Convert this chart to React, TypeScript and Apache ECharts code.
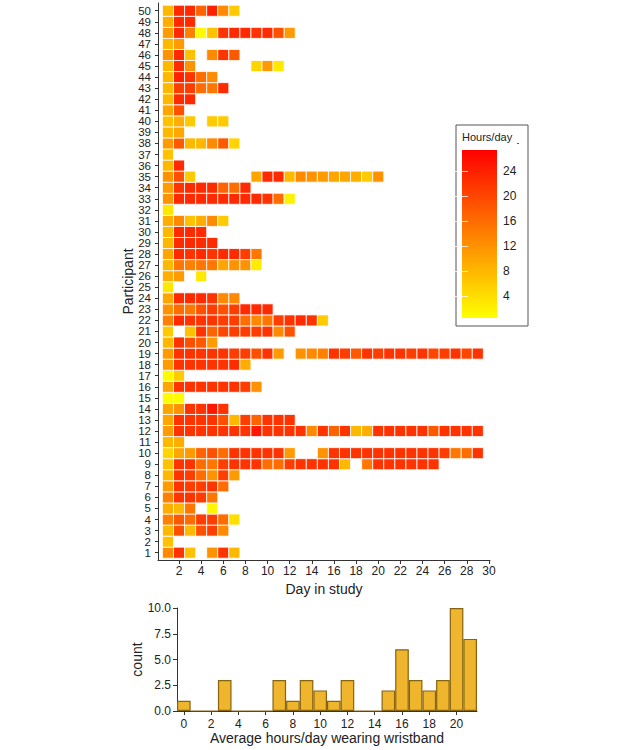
import React, { useEffect, useRef } from "react";
import * as echarts from "echarts";

// ---- Heatmap data: hours/day per participant (row index 0 = participant 1), day 1..n; null = no data
const hoursByParticipant: (number | null)[][] = [
  [13, 22, 7, null, 12, 22, 8], // 1
  [7], // 2
  [8, 19, 8, 19, 21, 13], // 3
  [14, 18, 16, 21, 21, 16, 4], // 4
  [9, 8, 15, null, 1.5], // 5
  [14, 22, 22, 21, 15], // 6
  [11, 22, 21, 21, 22, 16], // 7
  [8, 22, 21, 16, 12, 21, 11], // 8
  [7, 22, 22, 16, 15, 21, 22, 22, 22, 16, 16, 21, 22, 22, 22, 22, 8, null, 15, 22, 22, 22, 22, 22, 22], // 9
  [5, 10, 11, 17, 19, 16, 22, 22, 22, 22, 22, 11, null, null, 12, 22, 22, 22, 22, 22, 22, 22, 22, 22, 22, 21, 15, 16, 22], // 10
  [8, 9], // 11
  [11, 22, 22, 22, 22, 22, 22, 22, 25, 22, 22, 22, 22, 13, 22, 17, 22, 8, 9, 22, 22, 22, 22, 22, 18, 22, 22, 22, 22], // 12
  [10, 22, 22, 22, 22, 19, 8, 21, 17, 22, 22, 22], // 13
  [10, 12, 22, 22, 25, 22], // 14
  [0.8, 0.8], // 15
  [10, 22, 22, 22, 22, 22, 22, 21, 12], // 16
  [1, 6], // 17
  [11, 22, 22, 22, 22, 22, 23, 9], // 18
  [11, 22, 22, 22, 22, 22, 21, 21, 19, 22, 11, null, 12, 13, 14, 22, 21, 18, 22, 21, 22, 22, 21, 22, 20, 21, 22, 20, 22], // 19
  [8, 22, 19, 18, 11], // 20
  [6, null, 7, 22, 17, 20, 21, 21, 21, 22, 13, 19], // 21
  [14, 23, 22, 22, 22, 21, 21, 16, 13, 15, 21, 22, 23, 22, 6], // 22
  [12, 16, 15, 19, 21, 19, 21, 23, 23, 23], // 23
  [10, 23, 23, 23, 22, 13, 13], // 24
  [3], // 25
  [9, 11, null, 3], // 26
  [8, 15, 14, 15, 15, 10, 12, 12, 2.5], // 27
  [10, 23, 22, 23, 22, 23, 23, 21, 15], // 28
  [8, 23, 23, 23, 23], // 29
  [8, 23, 23, 23], // 30
  [9, 13, 7, 9, 13, 6], // 31
  [3], // 32
  [12, 23, 23, 23, 23, 23, 23, 23, 23, 22, 16, 2], // 33
  [11, 22, 23, 23, 23, 17, 16, 23], // 34
  [12, 19, 6, null, null, null, null, null, 10, 23, 23, 8, 13, 12, 11, 10, 10, 9, 6, 12], // 35
  [8, 23], // 36
  [7], // 37
  [11, 18, 8, 8, 13, 18, 5], // 38
  [8, 10], // 39
  [7, 9, 6, null, 6, 6], // 40
  [10, 19], // 41
  [8, 23, 23], // 42
  [8, 21, 21, 16, 15, 23], // 43
  [8, 24, 22, 16, 13], // 44
  [8, 23, 12, null, null, null, null, null, 5, 11, 3], // 45
  [12, 23, 7, null, 13, 22, 18], // 46
  [8, 11], // 47
  [11, 23, 14, 1, 7, 22, 23, 23, 22, 23, 19, 11], // 48
  [9, 23, 23], // 49
  [8, 23, 23, 17, 24, 13, 6], // 50
];

const dayTicks = [2, 4, 6, 8, 10, 12, 14, 16, 18, 20, 22, 24, 26, 28, 30];
const participantTicks = Array.from({ length: 50 }, (_, i) => i + 1);
const participantLabels = participantTicks.map(String);
const legendTicks = [4, 8, 12, 16, 20, 24];
const colorMin = 0.5;
const colorMax = 27.4;

// ---- Histogram data
const histBins = ["0", "1", "2", "3", "4", "5", "6", "7", "8", "9", "10", "11", "12", "13", "14", "15", "16", "17", "18", "19", "20", "21"];
const histCounts = [1, 0, 0, 3, 0, 0, 0, 3, 1, 3, 2, 1, 3, 0, 0, 2, 6, 3, 2, 3, 10, 7];
const countTicks = [0, 2.5, 5, 7.5, 10];

const FONT = "'Liberation Sans', Arial, Helvetica, sans-serif";
const TXT = "#222";

export default function App() {
  const ref = useRef<HTMLDivElement>(null);

  useEffect(() => {
    if (!ref.current) return;
    const chart = echarts.init(ref.current, undefined, { renderer: "svg" });

    const heatData: number[][] = [];
    hoursByParticipant.forEach((row, pi) => {
      row.forEach((v, di) => {
        if (v !== null && v !== undefined) heatData.push([di + 1, pi + 1, v]);
      });
    });

    const option: any = {
      animation: false,
      backgroundColor: "#fff",
      textStyle: { fontFamily: FONT },
      grid: [
        { left: 158, top: 3, width: 332, height: 557 },
        { left: 177, top: 608, width: 300, height: 103 },
        { left: 462, top: 150, width: 35, height: 168 },
        // label band for participants: exactly the 50 row slots of grid 0 (0.5 .. 50.5)
        { left: 158, top: 5.21, width: 332, height: 553 },
      ],
      xAxis: [
        {
          gridIndex: 0,
          type: "value",
          min: 0.1,
          max: 30.1,
          axisLine: { show: true, lineStyle: { color: "#333", width: 1 } },
          axisTick: { show: true, customValues: dayTicks, length: 4, lineStyle: { color: "#333" } },
          axisLabel: { customValues: dayTicks, fontSize: 12, color: TXT, margin: 5, fontFamily: FONT },
          splitLine: { show: false },
          name: "Day in study",
          nameLocation: "middle",
          nameGap: 16,
          nameTextStyle: { fontSize: 14, color: TXT, fontFamily: FONT },
        },
        {
          gridIndex: 1,
          type: "category",
          data: histBins,
          axisLine: { show: true, lineStyle: { color: "#333", width: 1 } },
          axisTick: { show: true, alignWithLabel: true, length: 4, interval: (i: number) => i % 2 === 0, lineStyle: { color: "#333" } },
          axisLabel: { interval: (i: number) => i % 2 === 0, fontSize: 12, color: TXT, margin: 7, fontFamily: FONT },
          name: "Average hours/day wearing wristband",
          nameLocation: "middle",
          nameGap: 20,
          nameTextStyle: { fontSize: 14, color: TXT, fontFamily: FONT },
        },
        { gridIndex: 2, type: "value", min: 0, max: 1, show: false },
        { gridIndex: 3, type: "value", min: 0, max: 1, show: false },
      ],
      yAxis: [
        {
          gridIndex: 0,
          type: "value",
          min: 0.34,
          max: 50.7,
          axisLine: { show: true, lineStyle: { color: "#333", width: 1 } },
          axisTick: { show: true, customValues: participantTicks, length: 3, lineStyle: { color: "#333" } },
          axisLabel: { show: false },
          splitLine: { show: false },
          name: "Participant",
          nameLocation: "middle",
          nameGap: 23,
          nameTextStyle: { fontSize: 14, color: TXT, fontFamily: FONT },
        },
        {
          gridIndex: 1,
          type: "value",
          min: 0,
          max: 10,
          axisLine: { show: true, lineStyle: { color: "#333", width: 1 } },
          axisTick: { show: true, customValues: countTicks, length: 4, lineStyle: { color: "#333" } },
          axisLabel: {
            customValues: countTicks,
            fontSize: 12,
            color: TXT,
            margin: 6,
            fontFamily: FONT,
            formatter: (v: number) => v.toFixed(1),
          },
          splitLine: { show: false },
          name: "count",
          nameLocation: "middle",
          nameGap: 23,
          nameTextStyle: { fontSize: 14, color: TXT, fontFamily: FONT },
        },
        {
          gridIndex: 2,
          type: "value",
          min: colorMin,
          max: colorMax,
          position: "right",
          z: 10,
          axisLine: { show: false },
          axisTick: { show: true, inside: true, customValues: legendTicks, length: 7, lineStyle: { color: "rgba(255,255,255,0.8)" } },
          axisLabel: { customValues: legendTicks, fontSize: 12, color: TXT, margin: 6, fontFamily: FONT },
          splitLine: { show: false },
        },
        {
          gridIndex: 2,
          type: "value",
          min: colorMin,
          max: colorMax,
          position: "left",
          z: 10,
          axisLine: { show: false },
          axisTick: { show: true, inside: true, customValues: legendTicks, length: 6, lineStyle: { color: "rgba(255,255,255,0.8)" } },
          axisLabel: { show: false },
          splitLine: { show: false },
        },
        {
          gridIndex: 3,
          type: "category",
          data: participantLabels,
          position: "left",
          axisLine: { show: false },
          axisTick: { show: false },
          axisLabel: { interval: 0, fontSize: 11.5, lineHeight: 11, color: TXT, margin: 7, fontFamily: FONT },
          splitLine: { show: false },
        },
      ],
      visualMap: {
        type: "continuous",
        show: false,
        min: colorMin,
        max: colorMax,
        dimension: 2,
        seriesIndex: 0,
        inRange: { color: ["#FFFF00", "#FF0000"] },
      },
      graphic: [
        {
          type: "rect",
          shape: { x: 456, y: 125, width: 72, height: 201 },
          style: { fill: "none", stroke: "#555", lineWidth: 1 },
          z: 1,
        },
        {
          type: "text",
          x: 462,
          y: 131,
          style: { text: "Hours/day", fontSize: 11, fill: TXT, fontFamily: FONT },
          z: 2,
        },
        {
          type: "line",
          shape: { x1: 517, y1: 143.5, x2: 519, y2: 143.5 },
          style: { stroke: "#555", lineWidth: 1 },
          z: 2,
        },
      ],
      series: [
        {
          type: "custom",
          xAxisIndex: 0,
          yAxisIndex: 0,
          data: heatData,
          encode: { x: 0, y: 1 },
          renderItem: (params: any, api: any) => {
            const d = api.value(0);
            const p = api.value(1);
            const tl = api.coord([d - 0.5, p + 0.5]);
            const br = api.coord([d + 0.5, p - 0.5]);
            return {
              type: "rect",
              shape: { x: tl[0], y: tl[1], width: br[0] - tl[0], height: br[1] - tl[1] },
              style: { fill: api.visual("color"), stroke: "#fff", lineWidth: 0.8 },
            };
          },
        },
        {
          type: "bar",
          xAxisIndex: 1,
          yAxisIndex: 1,
          data: histCounts,
          barCategoryGap: "0%",
          itemStyle: { color: "#EFB52C", borderColor: "#866412", borderWidth: 1.2 },
        },
        {
          type: "custom",
          xAxisIndex: 2,
          yAxisIndex: 2,
          data: [[0, colorMin, 1, colorMax]],
          renderItem: (params: any, api: any) => {
            const tl = api.coord([0, colorMax]);
            const br = api.coord([1, colorMin]);
            return {
              type: "rect",
              shape: { x: tl[0], y: tl[1], width: br[0] - tl[0], height: br[1] - tl[1] },
              style: {
                fill: new echarts.graphic.LinearGradient(0, 0, 0, 1, [
                  { offset: 0, color: "#FF0000" },
                  { offset: 1, color: "#FFFF00" },
                ]),
              },
            };
          },
        },
      ],
    };

    chart.setOption(option);
    return () => chart.dispose();
  }, []);

  return <div ref={ref} style={{ position: "absolute", left: 0, top: 0, width: 625, height: 750 }} />;
}
